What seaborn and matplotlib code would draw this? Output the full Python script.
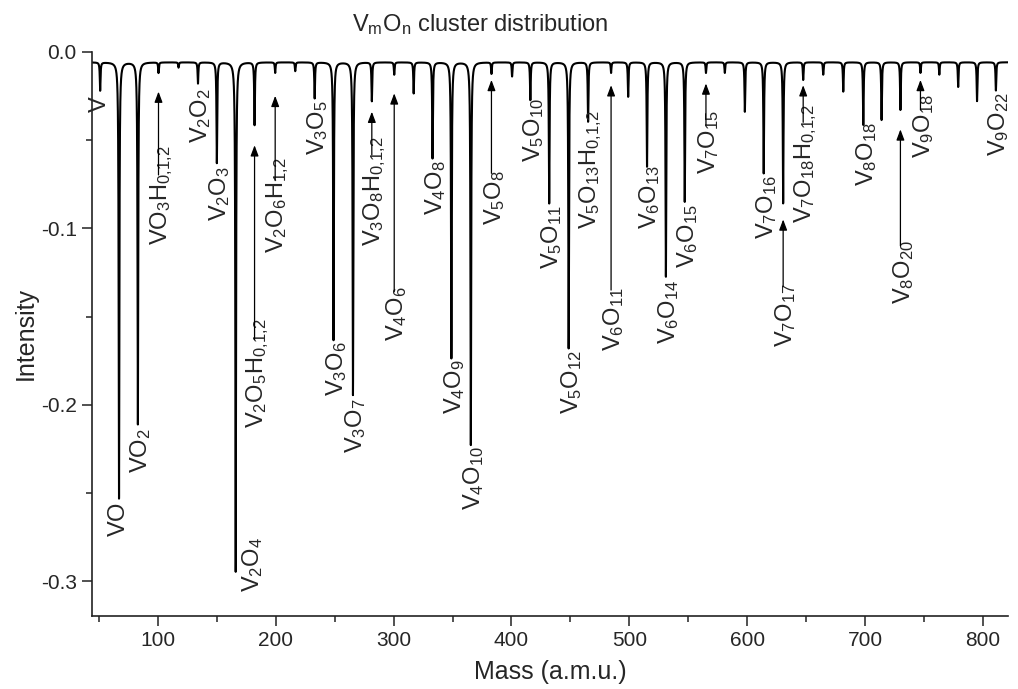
import numpy as np
import pandas as pd
import seaborn as sns
import matplotlib.pyplot as plt
from matplotlib.ticker import MultipleLocator

# ---- peaks (mass in a.m.u., intensity at the tip) ----
baseline = -0.006
peak_mass = [51, 67, 83, 100.5, 117.5, 134, 150, 166, 182, 199.5, 216.5,
             233, 249, 265.5, 281.5, 300.5, 317, 333, 349, 365.5, 383, 400.5,
             416, 432, 448.5, 465, 484.5, 499, 515, 531, 547, 565, 581, 598,
             614, 630.5, 647.5, 664.5, 681.5, 698.5, 714, 730, 747, 763, 779,
             795, 811]
peak_tip = [-0.022, -0.253, -0.211, -0.012, -0.009, -0.018, -0.063, -0.2945,
            -0.0415, -0.012, -0.011, -0.0264, -0.1633, -0.1944, -0.028,
            -0.013, -0.0236, -0.0604, -0.1736, -0.2227, -0.0125, -0.014,
            -0.0274, -0.0859, -0.168, -0.0396, -0.012, -0.0255, -0.0651,
            -0.1274, -0.085, -0.012, -0.012, -0.034, -0.0689, -0.0859, -0.016,
            -0.013, -0.0226, -0.0415, -0.0387, -0.033, -0.012, -0.013, -0.02,
            -0.028, -0.022]

# ---- peak labels ----
label_text = ['V', 'VO', 'VO_2', 'VO_3H_{0{,}1{,}2}', 'V_2O_2', 'V_2O_3',
              'V_2O_4', 'V_2O_5H_{0{,}1{,}2}', 'V_2O_6H_{1{,}2}', 'V_3O_5',
              'V_3O_6', 'V_3O_7', 'V_3O_8H_{0{,}1{,}2}', 'V_4O_6', 'V_4O_8',
              'V_4O_9', 'V_4O_{10}', 'V_5O_8', 'V_5O_{10}', 'V_5O_{11}',
              'V_5O_{12}', 'V_5O_{13}H_{0{,}1{,}2}', 'V_6O_{11}', 'V_6O_{13}',
              'V_6O_{14}', 'V_6O_{15}', 'V_7O_{15}', 'V_7O_{16}', 'V_7O_{17}',
              'V_7O_{18}H_{0{,}1{,}2}', 'V_8O_{18}', 'V_8O_{20}', 'V_9O_{18}',
              'V_9O_{22}']
label_mass = [51, 67, 83, 100.5, 134, 150, 178, 182, 199.5, 233, 249, 265.5,
              281.5, 300.5, 333, 349, 365.5, 383, 416, 432, 448.5, 465, 484.5,
              515, 531, 547, 565, 614, 630.5, 647.5, 698.5, 730, 747, 811]
label_top = [-0.0245, -0.255, -0.213, -0.053, -0.0207, -0.065, -0.275,
             -0.151, -0.060, -0.0275, -0.164, -0.196, -0.048, -0.133, -0.0615,
             -0.174, -0.223, -0.067, -0.026, -0.087, -0.169, -0.033, -0.133,
             -0.064, -0.129, -0.086, -0.033, -0.070, -0.131, -0.030, -0.0396,
             -0.1066, -0.024, -0.023]

# arrows: from label (tail) up to the weak peak (head)
arrow_mass = [100.5, 182, 199.5, 281.5, 300.5, 383, 484.5, 565, 630.5, 647.5,
              730, 747]
arrow_tail = [-0.0698, -0.163, -0.073, -0.0585, -0.136, -0.0689, -0.135,
              -0.0415, -0.133, -0.040, -0.110, -0.033]
arrow_head = [-0.0226, -0.053, -0.025, -0.034, -0.0236, -0.016, -0.019,
              -0.018, -0.095, -0.019, -0.044, -0.016]

# ---- build the trace from the peak table ----
mass = np.union1d(np.linspace(44.1, 821.3, 20000), peak_mass)
inten = np.full_like(mass, baseline)
gamma = 0.35
for m, tip in zip(peak_mass, peak_tip):
    inten += (tip - baseline) / (1 + ((mass - m) / gamma) ** 2)
df = pd.DataFrame({'mass': mass, 'intensity': inten})

sns.set_style('ticks')
plt.rcParams['font.family'] = ['Liberation Sans', 'DejaVu Sans']
plt.rcParams['mathtext.default'] = 'regular'
plt.rcParams['axes.unicode_minus'] = False

fig = plt.figure(figsize=(10.18, 6.89), dpi=100)
ax = fig.add_axes([0.0904, 0.1064, 0.8998, 0.8186])

sns.lineplot(data=df, x='mass', y='intensity', color='black', lw=1.5,
             estimator=None, ax=ax)

for txt, lx, ltop in zip(label_text, label_mass, label_top):
    dx = 2.4 if '_' in txt else 0
    ax.text(lx + dx, ltop, f'${txt}$', rotation=90, ha='center', va='top',
            fontsize=17)

for am, a0, a1 in zip(arrow_mass, arrow_tail, arrow_head):
    ax.annotate('', xy=(am, a1), xytext=(am, a0),
                arrowprops=dict(arrowstyle='-|>,head_length=0.8,head_width=0.3',
                                color='black', lw=0.9, shrinkA=0, shrinkB=0,
                                mutation_scale=8))

ax.set_xlim(44.1, 821.3)
ax.set_ylim(-0.3194, 0.0)
ax.xaxis.set_major_locator(MultipleLocator(100))
ax.xaxis.set_minor_locator(MultipleLocator(50))
ax.yaxis.set_major_locator(MultipleLocator(0.1))
ax.yaxis.set_minor_locator(MultipleLocator(0.05))
ax.yaxis.set_major_formatter(plt.FormatStrFormatter('%.1f'))
ax.tick_params(which='major', length=7, width=1.1, labelsize=15, pad=4,
               color='#222222')
ax.tick_params(which='minor', length=4, width=1.1, color='#222222')
sns.despine(ax=ax)
for s in ['left', 'bottom']:
    ax.spines[s].set_linewidth(1.2)
    ax.spines[s].set_color('#222222')

ax.set_xlabel('Mass (a.m.u.)', fontsize=18)
ax.set_ylabel('Intensity', fontsize=18)
ax.xaxis.set_label_coords(0.5, -0.078)
ax.yaxis.set_label_coords(-0.059, 0.5)

fig.text(0.4715, 0.955, r'$V_mO_n$ cluster distribution', ha='center',
         va='baseline', fontsize=17)

fig.savefig('out.png', dpi=100)
